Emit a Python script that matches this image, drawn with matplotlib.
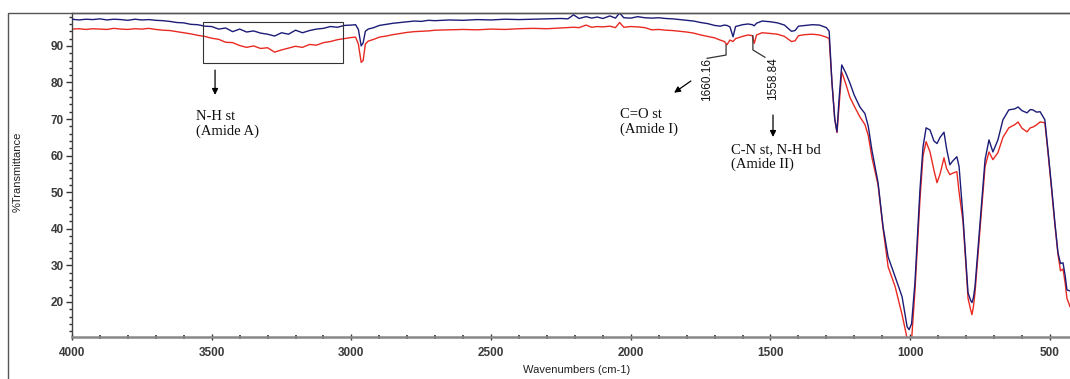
import matplotlib
matplotlib.use("Agg")
import matplotlib.pyplot as plt
from matplotlib.patches import Rectangle
from matplotlib.ticker import MultipleLocator

# ---- data ----
wavenumber = [
    4000, 3975, 3950, 3925, 3900, 3875, 3850, 3825, 3800, 3775,
    3750, 3725, 3700, 3675, 3650, 3625, 3600, 3575, 3550, 3525,
    3500, 3475, 3450, 3425, 3400, 3375, 3350, 3325, 3300, 3275,
    3250, 3225, 3200, 3175, 3150, 3125, 3100, 3075, 3050, 3025,
    3000, 2985, 2975, 2965, 2958, 2950, 2940, 2920, 2900, 2875,
    2850, 2825, 2800, 2775, 2750, 2725, 2700, 2650, 2600, 2550,
    2500, 2450, 2400, 2350, 2300, 2250, 2225, 2205, 2185, 2160,
    2140, 2120, 2100, 2075, 2055, 2040, 2025, 2000, 1975, 1950,
    1925, 1900, 1875, 1850, 1825, 1800, 1775, 1750, 1725, 1700,
    1680, 1665, 1656, 1645, 1634, 1625, 1600, 1580, 1565, 1558,
    1550, 1530, 1500, 1475, 1450, 1425, 1412, 1400, 1375, 1350,
    1325, 1300, 1290, 1280, 1270, 1262, 1255, 1245, 1230, 1216,
    1200, 1180, 1162, 1150, 1137, 1115, 1097, 1079, 1054, 1029,
    1011, 1004, 995, 983, 965, 954, 943, 929, 915, 904,
    893, 879, 870, 858, 848, 833, 825, 811, 800, 793,
    784, 779, 774, 768, 750, 732, 718, 704, 686, 668,
    647, 625, 614, 600, 582, 570, 561, 548, 535, 518,
    507, 493, 482, 471, 462, 453, 445, 439, 428,
]
trans_blue = [
    97.3, 97.1, 97.3, 97.2, 97.4, 97.1, 97.3, 97.2, 97.0, 97.3,
    97.1, 97.2, 97.0, 96.9, 96.7, 96.4, 96.3, 95.9, 95.8, 95.4,
    95.3, 94.6, 94.9, 93.9, 94.6, 93.8, 94.1, 93.5, 93.2, 92.7,
    93.6, 93.2, 94.3, 93.6, 94.2, 94.6, 94.8, 95.3, 95.1, 95.6,
    95.7, 95.8, 94.5, 90.0, 90.8, 94.0, 94.6, 95.0, 95.6, 95.9,
    96.2, 96.4, 96.6, 96.8, 96.7, 97.0, 96.9, 97.1, 97.0, 97.2,
    97.1, 97.3, 97.2, 97.3, 97.4, 97.5, 97.4, 98.5, 97.5, 98.0,
    97.6, 97.9, 97.5, 98.2, 97.6, 99.0, 97.7, 97.6, 98.0, 97.7,
    97.6, 97.7, 97.5, 97.4, 97.2, 97.0, 96.8, 96.4, 96.1, 95.6,
    95.4, 95.7, 95.6, 95.2, 92.5, 95.3, 95.8, 96.0, 95.8, 95.5,
    96.2, 96.8, 96.6, 96.3, 95.7, 94.0, 94.2, 95.4, 95.6, 95.8,
    95.7, 95.0, 94.0, 80.0, 70.0, 66.5, 75.0, 84.8, 82.5, 79.9,
    76.5, 73.3, 71.5, 68.0, 61.5, 52.6, 40.5, 32.3, 26.9, 21.4,
    13.2, 12.4, 14.0, 25.2, 50.7, 62.4, 67.6, 67.0, 64.0, 63.3,
    65.0, 66.4, 62.0, 57.5, 58.5, 59.7, 57.0, 43.3, 30.7, 22.5,
    20.5, 19.8, 21.0, 24.2, 41.6, 58.9, 64.3, 61.0, 64.3, 69.8,
    72.5, 72.8, 73.3, 72.3, 71.7, 72.6, 72.5, 71.9, 72.0, 69.8,
    61.6, 50.7, 41.6, 33.4, 30.5, 30.7, 27.0, 23.3, 23.0,
]
trans_red = [
    94.6, 94.7, 94.5, 94.7, 94.6, 94.5, 94.8, 94.6, 94.5, 94.7,
    94.6, 94.8, 94.5, 94.3, 94.2, 93.9, 93.6, 93.3, 92.9, 92.6,
    92.1, 91.8, 91.0, 90.9, 90.1, 89.6, 90.0, 89.3, 89.5, 88.3,
    88.9, 89.4, 89.9, 89.6, 90.4, 90.2, 90.9, 91.2, 91.7, 92.0,
    92.3, 92.4, 90.5, 85.5, 86.0, 90.5, 91.3, 91.8, 92.4, 92.7,
    93.1, 93.4, 93.7, 93.9, 94.0, 94.1, 94.3, 94.4, 94.5, 94.4,
    94.6, 94.5, 94.7, 94.8, 94.7, 94.9, 95.0, 95.1, 95.0, 95.7,
    95.1, 95.3, 95.2, 95.4, 95.0, 96.4, 95.1, 95.3, 95.2, 95.0,
    94.4, 94.5, 94.3, 94.2, 94.0, 93.8, 93.5, 93.0, 92.6, 92.2,
    91.6, 91.2, 90.3, 91.6, 91.2, 92.0, 92.6, 93.0, 92.8, 90.7,
    93.0, 93.6, 93.4, 93.2, 92.6, 91.2, 91.4, 92.8, 93.1, 93.2,
    93.0, 92.4, 92.0, 80.0, 70.0, 66.3, 73.0, 82.9, 79.5, 76.0,
    73.5, 70.6, 68.5, 65.5, 59.5, 52.0, 40.0, 29.6, 24.2, 16.5,
    10.0, 9.0, 9.5, 23.0, 48.0, 60.0, 63.8, 61.0, 56.0, 52.6,
    55.0, 59.4, 56.5, 54.8, 55.2, 55.6, 50.0, 42.0, 29.5, 21.0,
    18.0, 16.5, 18.5, 22.5, 40.0, 57.0, 61.0, 58.9, 60.8, 65.0,
    67.6, 68.5, 69.2, 67.5, 66.5, 67.6, 67.8, 68.4, 69.2, 69.0,
    61.0, 50.0, 41.0, 33.0, 28.5, 29.0, 25.0, 21.0, 18.7,
]
x_ticks = [4000, 3500, 3000, 2500, 2000, 1500, 1000, 500]
y_ticks = [20, 30, 40, 50, 60, 70, 80, 90]
peak_labels = ["1660.16", "1558.84"]

W, H = 1070, 379
fig = plt.figure(figsize=(W / 100, H / 100), dpi=100)
ax = fig.add_axes([72 / W, 1 - 337 / H, (W - 72) / W, (337 - 13) / H])

ax.plot(wavenumber, trans_blue, color="#1c1c78", lw=1.0, zorder=3)
ax.plot(wavenumber, trans_red, color="#e82a22", lw=1.0, zorder=2)

ax.set_xlim(4000, 428)
ax.set_ylim(10.4, 99.0)
ax.set_xticks(x_ticks)
ax.set_yticks(y_ticks)
ax.xaxis.set_minor_locator(MultipleLocator(100))
ax.yaxis.set_minor_locator(MultipleLocator(2))

for lab in ax.get_xticklabels() + ax.get_yticklabels():
    lab.set_fontfamily("Liberation Sans")
    lab.set_fontweight("bold")
    lab.set_fontsize(8.5)
    lab.set_color("#3a3a3a")
ax.tick_params(axis="y", which="major", direction="out", length=4, width=1, color="#333", pad=2)
ax.tick_params(axis="y", which="minor", direction="out", length=2, width=1, color="#333")
ax.tick_params(axis="x", which="major", direction="inout", length=5, width=1, color="#333", pad=5)
ax.tick_params(axis="x", which="minor", direction="inout", length=3, width=1.2, color="#333")

ax.spines["right"].set_visible(False)
ax.spines["top"].set_color("#555555")
ax.spines["top"].set_linewidth(1.0)
ax.spines["left"].set_color("#444444")
ax.spines["left"].set_linewidth(1.0)
ax.spines["bottom"].set_color("#888888")
ax.spines["bottom"].set_linewidth(1.8)

# outer frame
fig.patches.append(Rectangle((8 / W, -0.1), 2, 0.1 + 1 - 13 / H, transform=fig.transFigure,
                             fill=False, edgecolor="#555555", lw=1.0))

fig.text(577 / W, 1 - 370 / H, "Wavenumbers (cm-1)", ha="center", va="center",
         fontsize=8, family="Liberation Sans", color="#222")
fig.text(18 / W, 1 - 172 / H, "%Transmittance", ha="center", va="center", rotation=90,
         fontsize=8, family="Liberation Sans", color="#222")

# annotations
serif = dict(family="Liberation Serif", fontsize=10.5, color="#111", linespacing=1.15)
ax.add_patch(Rectangle((3030, 85.4), 501, 11.2, fill=False, edgecolor="#333", lw=0.8, zorder=4))
arrow = dict(arrowstyle="-|>", color="black", lw=0.9, mutation_scale=9, shrinkA=0, shrinkB=0)
ax.annotate("", xy=(3488, 76.6), xytext=(3488, 83.4), arrowprops=arrow)
ax.text(3556, 72.5, "N-H st\n(Amide A)", ha="left", va="top", **serif)

ax.annotate("", xy=(1845, 77.2), xytext=(1785, 80.4), arrowprops=arrow)
ax.text(2039, 73.1, "C=O st\n(Amide I)", ha="left", va="top", **serif)

ax.annotate("", xy=(1491, 65.1), xytext=(1491, 71.1), arrowprops=arrow)
ax.text(1641, 63.5, "C-N st, N-H bd\n(Amide II)", ha="left", va="top", **serif)

# peak labels with leader lines
ax.plot([1659, 1659, 1727], [90.3, 87.5, 86.6], color="#333", lw=0.9, zorder=4)
ax.text(1727, 86.8, peak_labels[0], rotation=90, ha="center", va="top",
        fontsize=8.5, family="Liberation Sans", color="#111")
ax.plot([1563, 1563, 1520], [92.8, 88.9, 86.9], color="#333", lw=0.9, zorder=4)
ax.text(1491, 86.8, peak_labels[1], rotation=90, ha="center", va="top",
        fontsize=8.5, family="Liberation Sans", color="#111")

fig.savefig("out.png", dpi=100)
